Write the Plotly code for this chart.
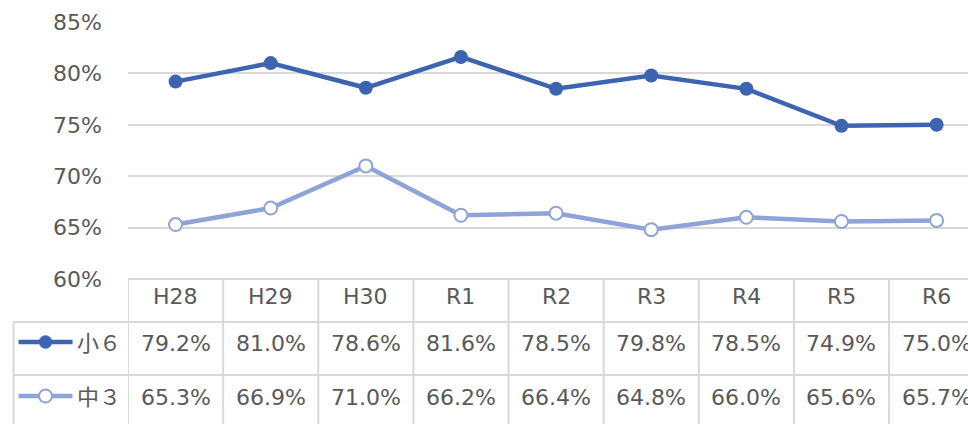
import plotly.graph_objects as go

# Survey years and rates (%)
categories = ["H28", "H29", "H30", "R1", "R2", "R3", "R4", "R5", "R6"]
sho6 = [79.2, 81.0, 78.6, 81.6, 78.5, 79.8, 78.5, 74.9, 75.0]
chu3 = [65.3, 66.9, 71.0, 66.2, 66.4, 64.8, 66.0, 65.6, 65.7]
series_names = ["小６", "中３"]
y_ticks = [60, 65, 70, 75, 80, 85]
y_tick_labels = [f"{v}%" for v in y_ticks]

DARK = "#3d64b0"
LIGHT = "#8ea4d8"
GRID = "#d9d9d9"
TEXT = "#595959"
FONT = "DejaVu Sans, Noto Sans CJK JP, sans-serif"

W, H = 968, 424
ML, MT, MB = 127.5, 22, 145
PLOT_W = W - ML
PLOT_H = H - MT - MB
PLOT_BOTTOM = H - MB


def px_x(px):
    return (px - ML) / PLOT_W


def px_y(py):
    return (PLOT_BOTTOM - py) / PLOT_H


fig = go.Figure()
fig.add_trace(go.Scatter(
    x=categories, y=sho6, mode="lines+markers", name=series_names[0],
    line=dict(color=DARK, width=4.5),
    marker=dict(size=14, color=DARK, line=dict(width=0)),
    cliponaxis=False,
))
fig.add_trace(go.Scatter(
    x=categories, y=chu3, mode="lines+markers", name=series_names[1],
    line=dict(color=LIGHT, width=4.5),
    marker=dict(size=13, color="white", line=dict(width=2, color=LIGHT)),
    cliponaxis=False,
))

# Data table below the plot
row_lines = [279, 322, 375]
shapes = []
shapes.append(dict(type="line", xref="paper", yref="paper", x0=0, x1=1,
                   y0=px_y(279), y1=px_y(279), line=dict(color=GRID, width=2)))
for py in row_lines[1:]:
    shapes.append(dict(type="line", xref="paper", yref="paper", x0=px_x(13), x1=1,
                       y0=px_y(py), y1=px_y(py), line=dict(color=GRID, width=2)))
shapes.append(dict(type="line", xref="paper", yref="paper", x0=px_x(13), x1=px_x(13),
                   y0=px_y(322), y1=px_y(H + 5), line=dict(color=GRID, width=2)))
for i in range(len(categories) + 1):
    shapes.append(dict(type="line", xref="x", yref="paper", x0=i - 0.5, x1=i - 0.5,
                       y0=px_y(279), y1=px_y(H + 5), line=dict(color=GRID, width=2)))

annotations = []
for i, c in enumerate(categories):
    annotations.append(dict(x=c, xref="x", y=px_y(296.5), yref="paper", text=c,
                            showarrow=False, xanchor="center", yanchor="middle",
                            font=dict(size=22, color=TEXT, family=FONT)))
for vals, cy in ((sho6, 343), (chu3, 397)):
    for c, v in zip(categories, vals):
        annotations.append(dict(x=c, xref="x", y=px_y(cy), yref="paper",
                                text=f"{v:.1f}%", showarrow=False,
                                xanchor="center", yanchor="middle",
                                font=dict(size=22, color=TEXT, family=FONT)))

# Legend keys inside the table
for name, color, fill, cy in ((series_names[0], DARK, DARK, 342),
                              (series_names[1], LIGHT, "white", 396)):
    shapes.append(dict(type="line", xref="paper", yref="paper",
                       x0=px_x(18), x1=px_x(72), y0=px_y(cy), y1=px_y(cy),
                       line=dict(color=color, width=4.5)))
    shapes.append(dict(type="circle", xref="paper", yref="paper",
                       x0=px_x(38.5), x1=px_x(51.5), y0=px_y(cy + 6.5), y1=px_y(cy - 6.5),
                       fillcolor=fill, line=dict(color=color, width=2 if fill == "white" else 0.5)))
    annotations.append(dict(x=px_x(74), xref="paper", y=px_y(cy + 1), yref="paper",
                            text=name, showarrow=False, xanchor="left", yanchor="middle",
                            font=dict(size=22, color=TEXT, family=FONT)))

fig.update_layout(
    width=W, height=H,
    margin=dict(l=ML, r=0, t=MT, b=MB, pad=0),
    paper_bgcolor="white", plot_bgcolor="white",
    showlegend=False,
    shapes=shapes, annotations=annotations,
    xaxis=dict(type="category", range=[-0.5, 8.33], showticklabels=False,
               showgrid=False, zeroline=False, showline=False, ticks=""),
    yaxis=dict(range=[60, 85], tickmode="array", tickvals=y_ticks, ticktext=y_tick_labels,
               showgrid=True, gridcolor=GRID, gridwidth=2, zeroline=False,
               showline=False, ticks="", ticklabelstandoff=25,
               tickfont=dict(size=22, color=TEXT, family=FONT)),
)

fig.write_html("out.html")
